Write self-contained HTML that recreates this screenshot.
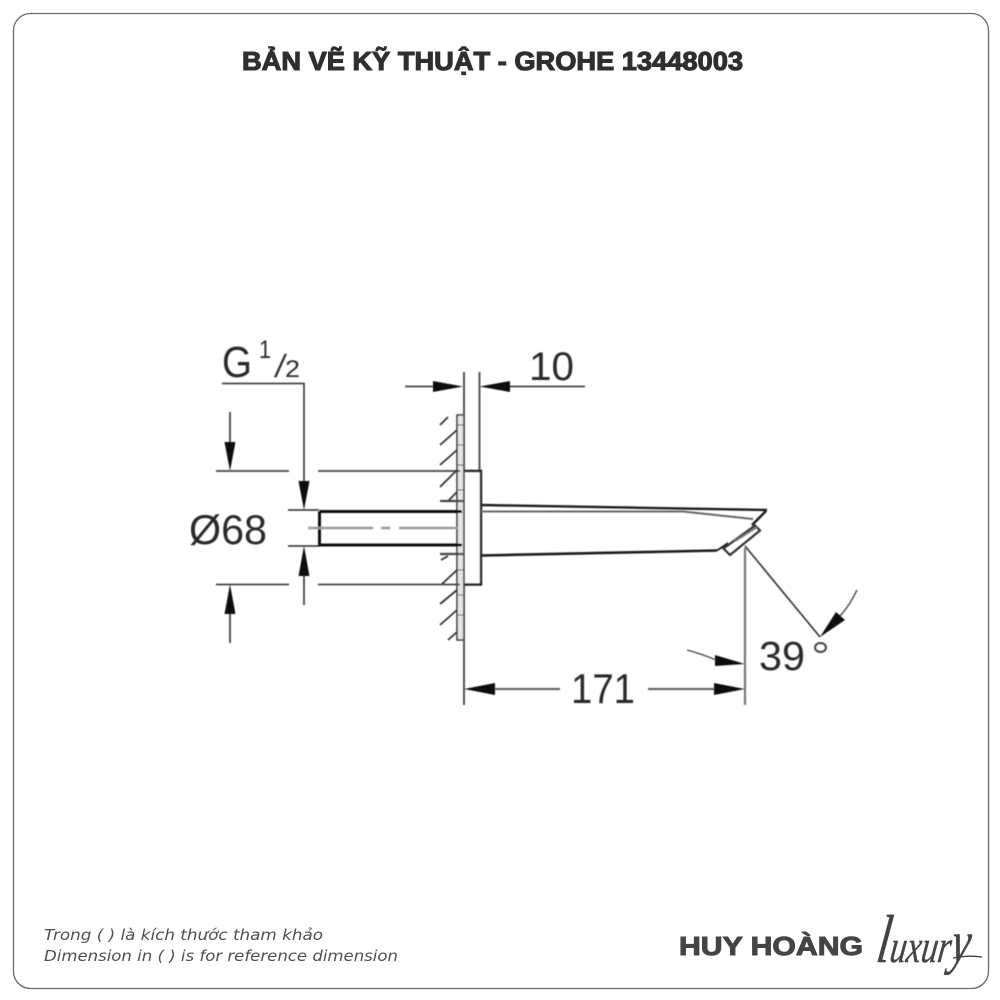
<!DOCTYPE html>
<html lang="vi">
<head>
<meta charset="utf-8">
<title>Bản vẽ kỹ thuật - GROHE 13448003</title>
<style>
html,body{margin:0;padding:0;background:#fff;width:1000px;height:1000px;overflow:hidden}
svg{display:block}
.dim{font-family:"Liberation Sans",sans-serif;fill:#2b2b2b}
.draw{filter:url(#soft)}
</style>
</head>
<body>
<svg width="1000" height="1000" viewBox="0 0 1000 1000" xmlns="http://www.w3.org/2000/svg">
<defs>
<filter id="soft" x="-5%" y="-5%" width="110%" height="110%"><feGaussianBlur stdDeviation="0.5"/></filter>
</defs>
<rect x="0" y="0" width="1000" height="1000" fill="#fff"/>
<rect x="13.5" y="13.500" width="975" height="975" rx="17" ry="17" fill="#fff" stroke="#6a6a6a" stroke-width="1.300"/>

<text x="242" y="70" font-family="'Liberation Sans',sans-serif" font-weight="700" font-size="26" fill="#2f2f2f" stroke="#2f2f2f" stroke-width="1.100" textLength="501" lengthAdjust="spacingAndGlyphs">BẢN VẼ KỸ THUẬT - GROHE 13448003</text>

<g class="draw">
  <!-- wall strip -->
  <rect x="457" y="415" width="7" height="225" fill="#e6e6e6" stroke="#333" stroke-width="1.500"/>
  <!-- thin gray dimension lines -->
  <g stroke="#444" stroke-width="1.800" fill="none">
    <path d="M222 383.500H304V482"/>
    <path d="M216 471H289M318 471H460"/>
    <path d="M216 584.500H289M318 584.500H460"/>
    <path d="M288 510H319M288 546H319"/>
    <path d="M230 412V445M230 612V643"/>
    <path d="M304 574V605"/>
    <path d="M405 386.500H436M508 386.500H585"/>
    <path d="M464 372V705M479.500 372V471" stroke="#555" stroke-width="2"/>
    <path d="M745 548V705" stroke="#777" stroke-width="2.200"/>
    <path d="M495 689H560M648 689H716" stroke="#666" stroke-width="2.200"/>
    <path d="M440 501H463M440 554H463" stroke-width="2.200"/>
  </g>
  <!-- hatching -->
  <g stroke="#333" stroke-width="1.800" fill="none">
    <path d="M448 417L440 425M457 430L440 445M457 450L440 465M457 470L440 487M457 492L449 500"/>
    <path d="M448 556L441 560M457 570L442 584M457 590L440 604M457 610L440 625M457 632L448 640"/>
    <path d="M457 425H463M457 445H463M457 465H463M457 490H463M457 570H463M457 595H463M457 615H463" stroke="#555" stroke-width="1"/>
  </g>
  <!-- arrowheads -->
  <g fill="#111">
    <path d="M230 471L224.500 442H235.500Z"/>
    <path d="M230 584.500L224.500 614H235.500Z"/>
    <path d="M304 510L298.500 481H309.500Z"/>
    <path d="M304 546L298.500 576H309.500Z"/>
    <path d="M463 386.500L433 381V392Z"/>
    <path d="M479.500 386.500L510 381V392Z"/>
    <path d="M464 689L495 683V695Z"/>
    <path d="M745 689L714 683V695Z"/>
    <path d="M745 664L715 655V666Z"/>
    <path d="M820 637L836 612L845 620Z"/>
  </g>
  <!-- stub pipe -->
  <path d="M319.500 511.500H462M319.500 511.500V545H462" stroke="#111" stroke-width="3" fill="none"/>
  <path d="M308 528H373M381 528H390M399 528H458" stroke="#999" stroke-width="2.600" fill="none"/>
  <!-- flange -->
  <path d="M464 471H481V584.500H464" stroke="#222" stroke-width="2.400" fill="#fff"/>
  <path d="M464 471V584.500" stroke="#555" stroke-width="2"/>
  <!-- spout -->
  <g fill="none" stroke="#1a1a1a">
    <path d="M481 505L767 510" stroke-width="2.400"/>
    <path d="M481 511.500L683 511.500L753 519" stroke="#666" stroke-width="2"/>
    <path d="M766 511L752 525" stroke-width="2.400"/>
    <path d="M482 555.500L717 550.500" stroke-width="2.600"/>
    <path d="M717 550.500L728 543" stroke-width="1.800"/>
    <path d="M723.500 548.500L755 525.500L760 530.500L730 555Z" stroke-width="2.200" stroke="#333"/>
    <path d="M735 541L757 527" stroke="#777" stroke-width="2"/>
    <path d="M745 546L820 637" stroke="#333" stroke-width="1.600"/>
    <path d="M687 650Q702 654 716 660" stroke="#444" stroke-width="1.400"/>
    <path d="M840 616Q850 605 857 590" stroke="#444" stroke-width="1.400"/>
    <ellipse cx="820.500" cy="647.500" rx="5.500" ry="4.500" stroke="#444" stroke-width="2"/>
  </g>
  <!-- dimension labels -->
  <text class="dim" x="222" y="377" font-size="44" textLength="30" lengthAdjust="spacingAndGlyphs">G</text>
  <text class="dim" x="259" y="358" font-size="25" textLength="12" lengthAdjust="spacingAndGlyphs">1</text>
  <text class="dim" transform="translate(274,377) skewX(-10)" font-size="32">/</text>
  <text class="dim" x="285" y="377" font-size="24" textLength="15" lengthAdjust="spacingAndGlyphs">2</text>
  <text class="dim" x="529" y="380" font-size="40" textLength="45" lengthAdjust="spacingAndGlyphs">10</text>
  <text class="dim" x="189" y="544" font-size="42" textLength="78" lengthAdjust="spacingAndGlyphs">Ø68</text>
  <text class="dim" x="571" y="703" font-size="42" textLength="64" lengthAdjust="spacingAndGlyphs">171</text>
  <text class="dim" x="759" y="670" font-size="41" textLength="46" lengthAdjust="spacingAndGlyphs">39</text>
</g>

<g fill="#4f4f4f" font-family="'DejaVu Sans',sans-serif" font-style="italic" font-size="15">
  <text x="44" y="940" textLength="279" lengthAdjust="spacingAndGlyphs">Trong ( ) là kích thước tham khảo</text>
  <text x="44" y="961" textLength="354" lengthAdjust="spacingAndGlyphs">Dimension in ( ) is for reference dimension</text>
</g>

<text x="679" y="955" font-family="'Liberation Sans',sans-serif" font-weight="700" font-size="26" fill="#444" stroke="#444" stroke-width="1" textLength="184" lengthAdjust="spacingAndGlyphs">HUY HOÀNG</text>
<text transform="translate(875,962) skewX(-8) scale(0.72,1)" font-family="'Liberation Serif',serif" font-style="italic" fill="#444" stroke="#444" stroke-width="0.4"><tspan font-size="68">l</tspan><tspan font-size="46">uxur</tspan><tspan font-size="60">y</tspan></text>
<path d="M953 958Q968 955 982 957" stroke="#444" stroke-width="1.300" fill="none"/>
</svg>
</body>
</html>
